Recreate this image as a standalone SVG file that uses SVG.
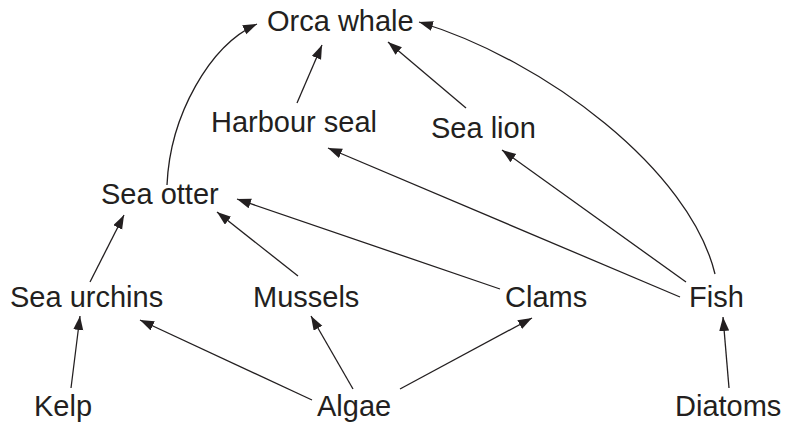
<svg xmlns="http://www.w3.org/2000/svg" width="785" height="425" viewBox="0 0 785 425">
<defs>
<style>
.lbl{font-family:"Liberation Sans",Arial,sans-serif;font-size:29px;fill:#231f20}
.c{fill:none;stroke:#231f20;stroke-width:1.3}
</style>
<marker id="ah" markerUnits="userSpaceOnUse" markerWidth="16" markerHeight="12" refX="14" refY="5" orient="auto">
<path d="M0,0 L14,5 L0,10 z" fill="#231f20"/>
</marker>
</defs>
<rect width="785" height="425" fill="#fff"/>
<g id="connectors">
<path class="c" marker-end="url(#ah)" d="M167,185 C170,115 210,45 257,24"/>
<path class="c" marker-end="url(#ah)" d="M715,274 C690,170 545,60 419,22"/>
<path class="c" marker-end="url(#ah)" d="M297,103 L322,45"/>
<path class="c" marker-end="url(#ah)" d="M466,108 L388,42"/>
<path class="c" marker-end="url(#ah)" d="M680,297 L328,148"/>
<path class="c" marker-end="url(#ah)" d="M686,282 L502,150"/>
<path class="c" marker-end="url(#ah)" d="M500,289 L237,199"/>
<path class="c" marker-end="url(#ah)" d="M298,276 L217,212"/>
<path class="c" marker-end="url(#ah)" d="M90,282 L124,215"/>
<path class="c" marker-end="url(#ah)" d="M71,388 L80,316"/>
<path class="c" marker-end="url(#ah)" d="M312,400 L140,320"/>
<path class="c" marker-end="url(#ah)" d="M353,389 L311,316"/>
<path class="c" marker-end="url(#ah)" d="M400,389 L532,318"/>
<path class="c" marker-end="url(#ah)" d="M729,388 L723,317"/>
</g>
<g id="orca"><text class="lbl" x="267" y="31">Orca whale</text></g>
<g id="harbour-seal"><text class="lbl" x="211" y="132">Harbour seal</text></g>
<g id="sea-lion"><text class="lbl" x="431" y="138">Sea lion</text></g>
<g id="sea-otter"><text class="lbl" x="101" y="204">Sea otter</text></g>
<g id="sea-urchins"><text class="lbl" x="10" y="307">Sea urchins</text></g>
<g id="mussels"><text class="lbl" x="253" y="307">Mussels</text></g>
<g id="clams"><text class="lbl" x="505" y="307">Clams</text></g>
<g id="fish"><text class="lbl" x="689" y="307">Fish</text></g>
<g id="kelp"><text class="lbl" x="34" y="416">Kelp</text></g>
<g id="algae"><text class="lbl" x="317" y="416">Algae</text></g>
<g id="diatoms"><text class="lbl" x="675" y="416">Diatoms</text></g>
</svg>
